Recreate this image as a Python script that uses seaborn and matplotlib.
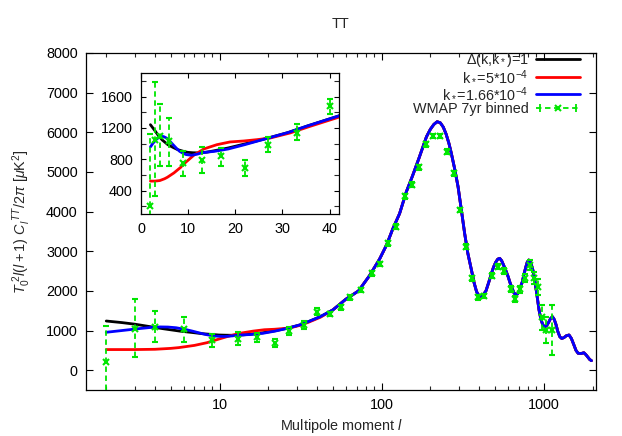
import matplotlib
matplotlib.use("Agg")
import numpy as np
import pandas as pd
import seaborn as sns
import matplotlib.pyplot as plt
from matplotlib.lines import Line2D
from matplotlib.legend_handler import HandlerLine2D, HandlerTuple
from matplotlib.ticker import FixedLocator, NullFormatter, LogLocator, MultipleLocator

# ---------------- data ----------------
# shared high-l part of the theory curves
hi_l = [50, 60, 72, 84, 97, 107, 117, 129, 142, 155, 170, 189, 200, 210, 220, 230, 240,
        250, 260, 269, 282, 296, 310, 325, 340, 358, 372, 385, 395, 403, 412, 420, 440,
        458, 476, 490, 505, 520, 535, 550, 565, 585, 603, 620, 640, 655, 672, 688, 705,
        720, 738, 755, 775, 790, 807, 820, 835, 850, 866, 883, 900, 918, 935, 955, 975,
        995, 1014, 1040, 1070, 1100, 1131, 1160, 1190, 1220, 1256, 1290, 1330, 1380,
        1432, 1480, 1530, 1580, 1629, 1700, 1767, 1820, 1870, 1920, 1969]
hi_D = [1520, 1787, 2000, 2380, 2800, 3150, 3560, 3950, 4500, 4900, 5350, 5888, 6080,
        6200, 6267, 6240, 6130, 5950, 5720, 5470, 5080, 4627, 4050, 3450, 2950, 2526,
        2200, 1980, 1900, 1871, 1860, 1880, 2000, 2220, 2443, 2600, 2720, 2800, 2821,
        2760, 2650, 2500, 2357, 2200, 2050, 1950, 1896, 1920, 2000, 2110, 2231, 2420,
        2600, 2720, 2779, 2760, 2680, 2580, 2443, 2230, 2000, 1750, 1518, 1330, 1200,
        1120, 1096, 1120, 1200, 1300, 1349, 1280, 1150, 980, 844, 800, 820, 870, 887,
        800, 650, 500, 426, 420, 440, 390, 330, 270, 240]

# low-l parts
black_l = [2, 2.5, 3, 3.7, 4.5, 5.7, 6.8, 7.8, 9, 9.9, 11, 12.1, 14, 15.6, 18.5, 22,
           26.2, 31.2, 35.4, 41.7]
black_D = [1240, 1200, 1160, 1100, 1045, 985, 950, 921, 900, 887, 882, 880, 890, 908,
           943, 994, 1058, 1140, 1226, 1347]

red_l = [2, 3, 4, 5, 5.6, 7, 8.4, 9.1, 11.2, 13.3, 16.1, 18.9, 21.8, 24.6, 27.4, 31.6,
         35.8, 42]
red_D = [520, 520, 527, 550, 569, 625, 695, 740, 850, 930, 985, 1020, 1032, 1049, 1070,
         1134, 1218, 1337]

blue_l = [2, 2.5, 3.2, 3.7, 4.3, 4.8, 5.4, 6.1, 6.8, 7.5, 8.2, 9, 9.6, 10.7, 12, 12.8,
          14, 15.6, 18.5, 22, 26.2, 31.2, 35.4, 41.7]
blue_D = [956, 1000, 1049, 1075, 1091, 1088, 1070, 1030, 985, 940, 900, 872, 858, 850,
          865, 880, 890, 900, 930, 985, 1056, 1140, 1226, 1347]

# WMAP 7yr binned
wmap_l = [2, 3, 4, 6, 9, 13, 17, 22, 27, 33, 40, 48, 56, 64, 75, 87, 97, 110, 123, 139,
          154, 170, 189, 208, 228, 253, 278, 303, 330, 361, 395, 428, 476, 522, 569,
          626, 669, 718, 771, 820, 871, 922, 982, 1038, 1131]
wmap_D = [200, 1050, 1100, 1030, 750, 790, 840, 690, 985, 1140, 1473, 1417, 1585, 1838,
          2022, 2443, 2678, 3200, 3619, 4390, 4675, 5117, 5697, 5906, 5906, 5510, 4965,
          4040, 3114, 2317, 1838, 1871, 2383, 2610, 2501, 2040, 1795, 2040, 2332, 2652,
          2317, 2105, 1334, 1013, 1013]
wmap_lo = [930, 720, 385, 315, 165, 162, 122, 108, 97, 100, 93, 60, 60, 60, 60, 60, 60,
           60, 60, 60, 60, 60, 60, 60, 60, 60, 60, 60, 60, 60, 60, 60, 70, 70, 70, 80,
           80, 90, 100, 120, 150, 200, 330, 320, 630]
wmap_hi = [920, 740, 400, 300, 155, 165, 105, 105, 98, 110, 93, 60, 60, 60, 60, 60, 60,
           60, 60, 60, 60, 60, 60, 60, 60, 60, 60, 60, 60, 60, 60, 60, 70, 70, 70, 80,
           80, 90, 100, 120, 150, 200, 320, 320, 630]

labels = ["Δ(k,k$_*$)=1", "k$_*$=5*10$^{-4}$", "k$_*$=1.66*10$^{-4}$",
          "WMAP 7yr binned"]

# ---------------- style ----------------
sns.set_theme(style="ticks")
plt.rcParams["font.family"] = ["Liberation Sans", "DejaVu Sans"]
plt.rcParams["mathtext.fontset"] = "custom"
plt.rcParams["mathtext.rm"] = "Liberation Sans"
plt.rcParams["mathtext.it"] = "Liberation Sans:italic"
plt.rcParams["mathtext.sf"] = "Liberation Sans"
plt.rcParams["axes.edgecolor"] = "black"
plt.rcParams["axes.linewidth"] = 0.9

FS = 10.4
GREEN = "#00e600"
curves = [
    (black_l + hi_l, black_D + hi_D, "black"),
    (red_l + hi_l, red_D + hi_D, "#ff0000"),
    (blue_l + hi_l, blue_D + hi_D, "#0000ff"),
]

fig = plt.figure(figsize=(6.22, 4.36), dpi=100)
ax = fig.add_axes([86 / 622, 1 - 390 / 436, 510 / 622, 337 / 436])
axin = fig.add_axes([141 / 622, 1 - 214 / 436, 198 / 622, 141 / 436])


def draw(a, ms, cap):
    for lx, ly, c in curves:
        df = pd.DataFrame({"l": lx, "D": ly})
        sns.lineplot(data=df, x="l", y="D", color=c, lw=2.0, ax=a, sort=False,
                     estimator=None, legend=False)
    eb = a.errorbar(wmap_l, wmap_D, yerr=[wmap_lo, wmap_hi], fmt="x", color=GREEN,
                    ms=ms, mew=1.5, elinewidth=1.3, capsize=cap, capthick=1.3,
                    zorder=5)
    for lc in eb[2]:
        lc.set_linestyle((0, (3, 2)))
    a.set_xlabel("")
    a.set_ylabel("")


draw(ax, 5, 2.2)
draw(axin, 5, 2.2)

# main axes
ax.set_xscale("log")
ax.set_xlim(1.5, 2100)
ax.set_ylim(-500, 8000)
ax.xaxis.set_major_locator(FixedLocator([10, 100, 1000]))
ax.set_xticklabels(["10", "100", "1000"])
ax.xaxis.set_minor_locator(LogLocator(base=10, subs=np.arange(2, 10), numticks=20))
ax.xaxis.set_minor_formatter(NullFormatter())
ax.set_yticks(np.arange(0, 8001, 1000))
ax.tick_params(which="major", direction="in", top=True, right=True, length=4.7,
               width=0.8, labelsize=FS, pad=6, colors="black")
ax.tick_params(which="minor", direction="in", top=True, right=True, length=2.9,
               width=0.8)

# inset
axin.set_xlim(0, 42)
axin.set_ylim(100, 1900)
axin.xaxis.set_major_locator(MultipleLocator(10))
axin.yaxis.set_major_locator(FixedLocator([400, 800, 1200, 1600]))
axin.yaxis.set_minor_locator(MultipleLocator(200))
axin.tick_params(which="major", direction="in", top=True, right=True, length=3.6,
                 width=0.8, labelsize=FS, pad=6, colors="black")
axin.tick_params(which="minor", direction="in", top=False, right=True, left=True,
                 length=3.6, width=0.8)

# texts
fig.text(341 / 622, 1 - 24 / 436, "TT", ha="center", va="center", fontsize=FS)
fig.text(341 / 622, 1 - 426 / 436, r"Multipole moment $l$", ha="center", va="center",
         fontsize=FS)
fig.text(22 / 622, 1 - 222 / 436,
         r"$T_0^{\ 2}l(l+1)\ C_l^{\ TT}$/2$\pi$ [$\mu$K$^2$]",
         ha="center", va="center", rotation=90, fontsize=FS)

# legend (gnuplot style: text right-aligned, sample on the right)
h_black = Line2D([], [], color="black", lw=2.0)
h_red = Line2D([], [], color="#ff0000", lw=2.0)
h_blue = Line2D([], [], color="#0000ff", lw=2.0)
h_wline = Line2D([], [], color=GREEN, lw=1.3, ls=(0, (3, 2)), marker="x", ms=5, mew=1.5)
h_caps = Line2D([], [], color=GREEN, ls="none", marker="|", ms=6, mew=1.3)
leg = ax.legend([h_black, h_red, h_blue, (h_wline, h_caps)], labels,
                handler_map={h_caps: HandlerLine2D(numpoints=2),
                             tuple: HandlerTuple(ndivide=1)},
                loc="upper right", bbox_to_anchor=(580 / 622, 1 - 51 / 436),
                bbox_transform=fig.transFigure, frameon=False, markerfirst=False,
                fontsize=FS, handlelength=3.05, handletextpad=0.5, labelspacing=0.02,
                borderpad=0, borderaxespad=0, numpoints=1)

fig.savefig("out.png", dpi=100)
